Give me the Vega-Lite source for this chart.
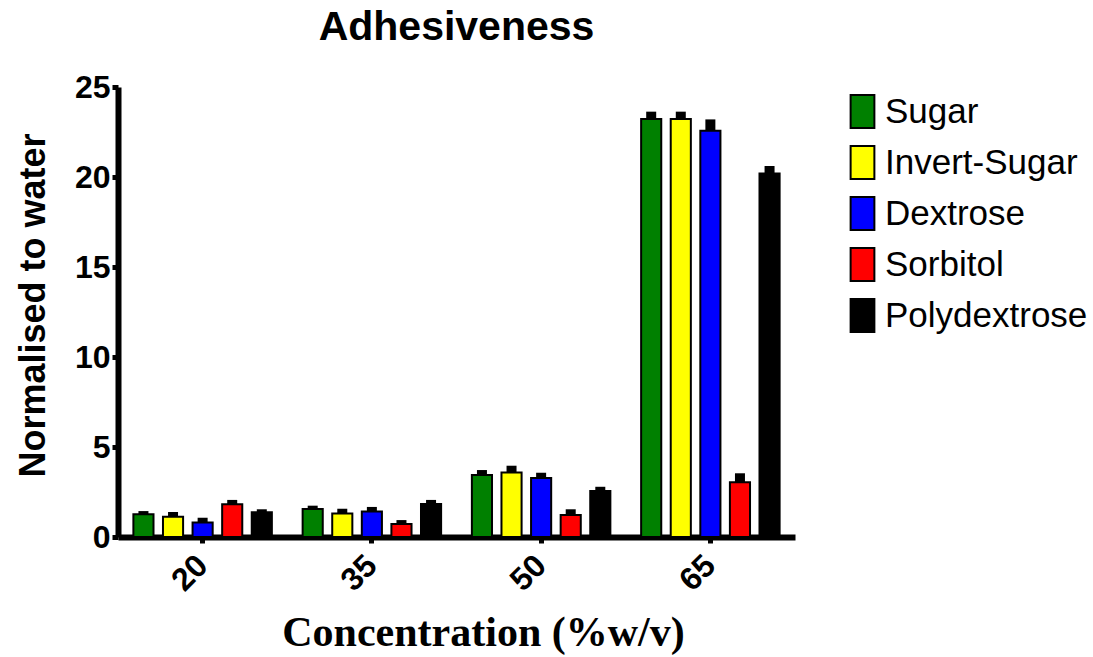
{
  "$schema": "https://vega.github.io/schema/vega-lite/v6.json",
  "autosize": {"type": "none"},
  "width": 677,
  "height": 450,
  "padding": {"left": 118, "top": 87, "right": 298, "bottom": 120},
  "background": "white",
  "config": {"view": {"stroke": null}},
  "title": {"text": "Adhesiveness", "font": "Liberation Sans", "fontSize": 41, "fontWeight": "bold", "anchor": "middle", "color": "black", "frame": "group", "offset": 22},
  "data": {"values": [
    {"conc": "20", "sugar": "Sugar", "value": 1.26, "upper": 1.44},
    {"conc": "20", "sugar": "Invert-Sugar", "value": 1.13, "upper": 1.39},
    {"conc": "20", "sugar": "Dextrose", "value": 0.8, "upper": 1.07},
    {"conc": "20", "sugar": "Sorbitol", "value": 1.82, "upper": 2.06},
    {"conc": "20", "sugar": "Polydextrose", "value": 1.37, "upper": 1.54},
    {"conc": "35", "sugar": "Sugar", "value": 1.56, "upper": 1.74},
    {"conc": "35", "sugar": "Invert-Sugar", "value": 1.3, "upper": 1.57},
    {"conc": "35", "sugar": "Dextrose", "value": 1.41, "upper": 1.67},
    {"conc": "35", "sugar": "Sorbitol", "value": 0.72, "upper": 0.94},
    {"conc": "35", "sugar": "Polydextrose", "value": 1.83, "upper": 2.06},
    {"conc": "50", "sugar": "Sugar", "value": 3.44, "upper": 3.72},
    {"conc": "50", "sugar": "Invert-Sugar", "value": 3.59, "upper": 3.96},
    {"conc": "50", "sugar": "Dextrose", "value": 3.28, "upper": 3.57},
    {"conc": "50", "sugar": "Sorbitol", "value": 1.22, "upper": 1.54},
    {"conc": "50", "sugar": "Polydextrose", "value": 2.56, "upper": 2.79},
    {"conc": "65", "sugar": "Sugar", "value": 23.22, "upper": 23.63},
    {"conc": "65", "sugar": "Invert-Sugar", "value": 23.22, "upper": 23.63},
    {"conc": "65", "sugar": "Dextrose", "value": 22.57, "upper": 23.2},
    {"conc": "65", "sugar": "Sorbitol", "value": 3.04, "upper": 3.54},
    {"conc": "65", "sugar": "Polydextrose", "value": 20.2, "upper": 20.61}
  ]},
  "encoding": {
    "x": {
      "field": "conc", "type": "ordinal", "sort": ["20", "35", "50", "65"],
      "scale": {"paddingInner": 0, "paddingOuter": 0},
      "axis": {
        "title": "Concentration (%w/v)",
        "titleFont": "Liberation Serif", "titleFontSize": 42, "titleFontWeight": "bold", "titleColor": "black",
        "titleX": 365, "titleY": 95, "titleAlign": "center", "titleBaseline": "middle",
        "domainColor": "black", "domainWidth": 6,
        "tickColor": "black", "tickWidth": 5, "tickSize": 6,
        "labelAngle": -45, "labelAlign": "right", "labelBaseline": "middle", "labelPadding": 17,
        "labelFont": "Liberation Sans", "labelFontSize": 32, "labelFontWeight": "bold", "labelColor": "black"
      }
    },
    "xOffset": {
      "field": "sugar", "type": "nominal",
      "sort": ["Sugar", "Invert-Sugar", "Dextrose", "Sorbitol", "Polydextrose"],
      "scale": {"paddingInner": 0.32, "paddingOuter": 0.52}
    }
  },
  "layer": [
    {
      "mark": {"type": "bar", "stroke": "black", "strokeWidth": 2},
      "encoding": {
        "y": {
          "field": "value", "type": "quantitative",
          "scale": {"domain": [0, 25], "nice": false},
          "axis": {
            "title": "Normalised to water", "values": [0, 5, 10, 15, 20, 25], "grid": false,
            "titleFont": "Liberation Sans", "titleFontSize": 36, "titleFontWeight": "bold", "titleColor": "black",
            "titleX": -85, "titleY": 218, "titleAlign": "center", "titleBaseline": "middle", "titleAngle": -90,
            "domainColor": "black", "domainWidth": 6,
            "tickColor": "black", "tickWidth": 5, "tickSize": 6,
            "labelFont": "Liberation Sans", "labelFontSize": 32, "labelFontWeight": "bold", "labelColor": "black", "labelPadding": 2
          }
        },
        "color": {
          "field": "sugar", "type": "nominal",
          "scale": {"domain": ["Sugar", "Invert-Sugar", "Dextrose", "Sorbitol", "Polydextrose"], "range": ["#008000", "#ffff00", "#0000ff", "#ff0000", "#000000"]},
          "legend": {
            "title": null, "orient": "none", "legendX": 727, "legendY": 7, "padding": 0,
            "symbolType": "M-0.72,-1H0.72V1H-0.72Z", "symbolSize": 1089,
            "symbolStrokeColor": "black", "symbolStrokeWidth": 2, "symbolOpacity": 1,
            "labelFont": "Liberation Sans", "labelFontSize": 35, "labelColor": "black", "labelOffset": 5, "labelLimit": 400,
            "rowPadding": 10
          }
        }
      }
    },
    {
      "mark": {"type": "rule", "color": "black", "strokeWidth": 10, "strokeCap": "butt"},
      "encoding": {
        "y": {"field": "value", "type": "quantitative"},
        "y2": {"field": "upper"}
      }
    }
  ]
}
